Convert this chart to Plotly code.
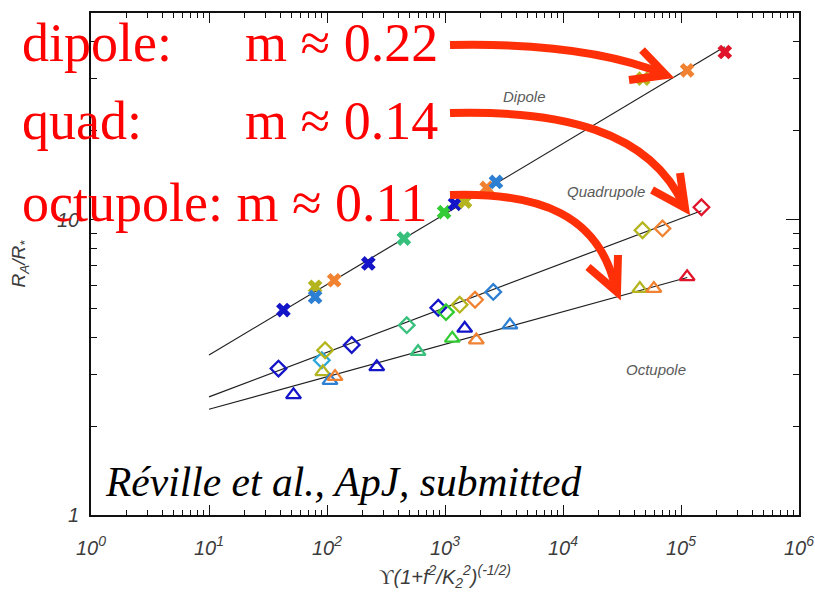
import plotly.graph_objects as go

# ---- data -------------------------------------------------------------
palette = {
    "navy": "#1414c8",
    "steel": "#2c7fd2",
    "sky": "#2aa6d8",
    "teal": "#36c07c",
    "green": "#34cc34",
    "olive": "#b4b41e",
    "orange": "#f08232",
    "red": "#e0142a",
}

dipole_x = [42.7, 79.3, 79.3, 115, 224, 448, 982, 1216, 1477, 2254, 2704, 47800, 112700, 235000]
dipole_y = [4.94, 5.92, 5.47, 6.23, 7.10, 8.62, 10.6, 11.3, 11.5, 12.8, 13.4, 30.0, 32.0, 36.9]
dipole_c = ["navy", "olive", "steel", "orange", "navy", "teal", "green", "navy", "olive",
            "orange", "steel", "olive", "orange", "red"]

quad_x = [38.8, 90.4, 96.4, 162, 474, 877, 1020, 1332, 1797, 2566, 47200, 69700, 149000]
quad_y = [3.13, 3.34, 3.61, 3.76, 4.39, 5.03, 4.86, 5.15, 5.35, 5.69, 9.20, 9.33, 11.0]
quad_c = ["navy", "sky", "olive", "navy", "teal", "navy", "green", "olive", "orange",
          "steel", "olive", "orange", "red"]

oct_x = [52, 92, 106, 117, 264, 591, 1153, 1469, 1842, 3550, 44800, 58900, 112700]
oct_y = [2.55, 3.05, 2.85, 2.94, 3.17, 3.57, 3.96, 4.28, 3.91, 4.39, 5.84, 5.84, 6.40]
oct_c = ["navy", "olive", "steel", "orange", "navy", "teal", "green", "navy", "orange",
         "steel", "olive", "orange", "red"]

# power-law fits R = A * x**m, drawn from x = 10 to x_end
fit_names = ["Dipole", "Quadrupole", "Octupole"]
fit_A = [3.48 / 10 ** 0.2386, 2.51 / 10 ** 0.151, 2.28 / 10 ** 0.110]
fit_m = [0.2386, 0.151, 0.110]
fit_xend = [2.35e5, 1.49e5, 1.13e5]

x_tickvals = [1, 10, 100, 1000, 1e4, 1e5, 1e6]
x_ticktext = ["10<sup>%d</sup>" % k for k in range(7)]
x_minor = [m * 10 ** k for k in range(6) for m in range(2, 10)]
y_tickvals = [1, 10]
y_ticktext = ["1", "10"]
y_minor = [2, 3, 4, 5, 6, 7, 8, 9, 20, 30, 40]

slope_rows = [("dipole:", "m ≈ 0.22"), ("quad:", "m ≈ 0.14"), ("octupole:", "m ≈ 0.11")]

# ---- figure -----------------------------------------------------------
W, H = 815, 601
ML, MR, MT, MB = 91, 16, 13, 86
PW, PH = W - ML - MR, H - MT - MB


def px(x):
    return (x - ML) / PW


def py(y):
    return (H - MB - y) / PH


SERIF = "Liberation Serif"
SANS = "Liberation Sans"

fig = go.Figure()

for A, m, xe in zip(fit_A, fit_m, fit_xend):
    xs = [10, xe]
    fig.add_trace(go.Scatter(x=xs, y=[A * v ** m for v in xs], mode="lines",
                             line=dict(color="#202020", width=1.2),
                             showlegend=False, hoverinfo="skip"))

fig.add_trace(go.Scatter(x=dipole_x, y=dipole_y, mode="markers", showlegend=False,
                         marker=dict(symbol="x", size=13,
                                     color=[palette[c] for c in dipole_c],
                                     line=dict(width=0))))
fig.add_trace(go.Scatter(x=quad_x, y=quad_y, mode="markers", showlegend=False,
                         marker=dict(symbol="diamond-open", size=12,
                                     color=[palette[c] for c in quad_c],
                                     line=dict(width=2.3))))
fig.add_trace(go.Scatter(x=oct_x, y=oct_y, mode="markers", showlegend=False,
                         marker=dict(symbol="triangle-up-open", size=13,
                                     color=[palette[c] for c in oct_c],
                                     line=dict(width=2.3))))

axis_font = dict(family=SANS, size=20, color="#3c3c3c", style="italic")
common = dict(type="log", showgrid=False, zeroline=False, showline=True,
              linecolor="#111", linewidth=1.6, mirror="allticks", ticks="inside",
              tickcolor="#111", tickwidth=1.3, automargin=False, tickfont=axis_font)

fig.update_xaxes(range=[0, 6], tickmode="array", tickvals=x_tickvals, ticktext=x_ticktext,
                 ticklen=10, ticklabelstandoff=14,
                 minor=dict(tickmode="array", tickvals=x_minor, ticks="inside",
                            ticklen=5, tickcolor="#111", tickwidth=1.1),
                 title=dict(text="<span style='font-style:normal;font-family:Liberation Serif'>ϒ</span>"
                                 "(1+f<sup>2</sup>/K<sub>2</sub><sup>2</sup>)<sup>(-1/2)</sup>",
                            font=dict(family=SANS, size=20, color="#3c3c3c", style="italic"),
                            standoff=12),
                 **common)
fig.update_yaxes(range=[0, 1.699], tickmode="array", tickvals=y_tickvals, ticktext=y_ticktext,
                 ticklen=13, ticklabelstandoff=6,
                 minor=dict(tickmode="array", tickvals=y_minor, ticks="inside",
                            ticklen=6, tickcolor="#111", tickwidth=1.1),
                 title=dict(text="R<sub>A</sub>/R<sub>*</sub>",
                            font=dict(family=SANS, size=19, color="#3c3c3c", style="italic"),
                            standoff=26),
                 **common)

annotations = []
# curve labels
for name, (xa, ya) in zip(fit_names, [(524, 97), (606, 191), (656, 369)]):
    annotations.append(dict(x=px(xa), y=py(ya), xref="paper", yref="paper", text=name,
                            showarrow=False, xanchor="center", yanchor="middle",
                            font=dict(family=SANS, size=15, color="#5a5a5a", style="italic")))

# slope annotations in red
red_font = dict(family=SERIF, size=54, color="#ff0000")
row_y = [43, 121, 203]
for (lab, val), yy in zip(slope_rows, row_y):
    if lab == "octupole:":
        annotations.append(dict(x=px(20), y=py(yy), xref="paper", yref="paper",
                                text=lab + " " + val, showarrow=False, xanchor="left",
                                yanchor="middle", font=red_font))
    else:
        annotations.append(dict(x=px(20), y=py(yy), xref="paper", yref="paper", text=lab,
                                showarrow=False, xanchor="left", yanchor="middle",
                                font=red_font))
        annotations.append(dict(x=px(243), y=py(yy), xref="paper", yref="paper", text=val,
                                showarrow=False, xanchor="left", yanchor="middle",
                                font=red_font))

annotations.append(dict(x=px(103), y=py(482), xref="paper", yref="paper",
                        text="Réville et al., ApJ, submitted", showarrow=False,
                        xanchor="left", yanchor="middle",
                        font=dict(family=SERIF, size=41.5, color="#000", style="italic")))

# curved red arrows pointing at each fit
arrow_paths = [
    ([(450, 45), (540, 43), (610, 52), (664, 74)], [(642, 50), (666, 75), (629, 80)]),
    ([(450, 113), (560, 110), (650, 130), (684, 206)], [(680, 173), (685, 208), (652, 190)]),
    ([(450, 195), (540, 192), (600, 215), (616, 290)], [(618, 255), (617, 292), (588, 267)]),
]
shapes = []
for curve, head in arrow_paths:
    (x0, y0), (x1, y1), (x2, y2), (x3, y3) = curve
    d = "M %f %f C %f %f, %f %f, %f %f" % (px(x0), py(y0), px(x1), py(y1),
                                           px(x2), py(y2), px(x3), py(y3))
    shapes.append(dict(type="path", path=d, xref="paper", yref="paper",
                       line=dict(color="#ff3008", width=8)))
    (hx0, hy0), (hx1, hy1), (hx2, hy2) = head
    d = "M %f %f L %f %f L %f %f" % (px(hx0), py(hy0), px(hx1), py(hy1), px(hx2), py(hy2))
    shapes.append(dict(type="path", path=d, xref="paper", yref="paper",
                       line=dict(color="#ff3008", width=8)))

fig.update_layout(width=W, height=H, margin=dict(l=ML, r=MR, t=MT, b=MB, pad=0),
                  paper_bgcolor="white", plot_bgcolor="white",
                  annotations=annotations, shapes=shapes, showlegend=False)

fig.write_html("out.html")
